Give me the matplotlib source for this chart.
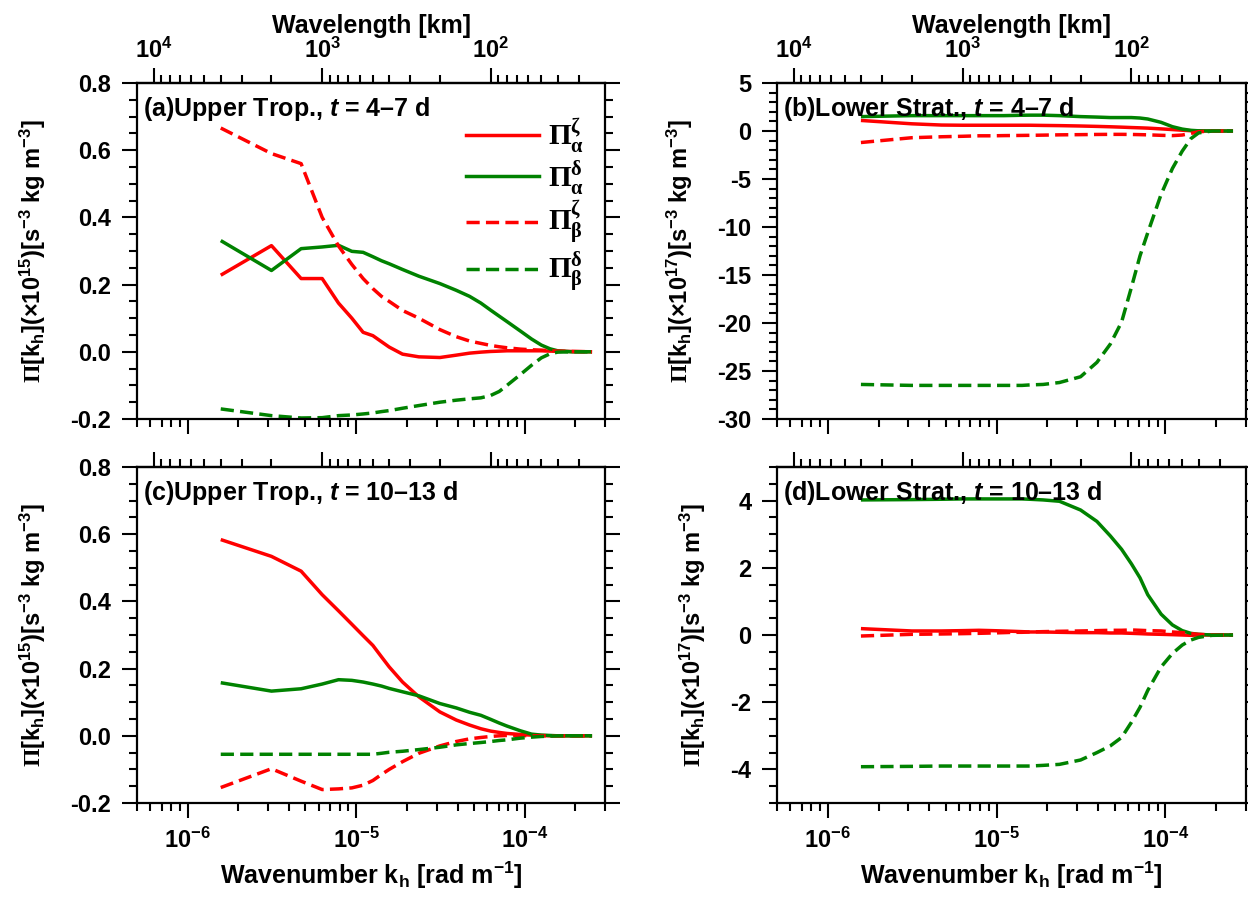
import numpy as np
import matplotlib
matplotlib.use("Agg")
import matplotlib.pyplot as plt
from matplotlib.ticker import (MultipleLocator, FixedLocator, FuncFormatter,
                               NullFormatter)
from matplotlib.lines import Line2D

plt.rcParams.update({
    "font.family": "Liberation Sans",
    "font.weight": "bold",
    "mathtext.fontset": "custom",
    "mathtext.rm": "Liberation Sans:bold",
    "mathtext.it": "Liberation Sans:italic:bold",
    "mathtext.bf": "Liberation Sans:bold",
    "mathtext.cal": "Liberation Serif",
    "mathtext.default": "rm",
})

# ---------------------------------------------------------------- data
DOMAIN_LENGTH_M = 4.0e6          # periodic domain length (4000 km)
mode = np.array([1, 2, 3, 4, 5, 6, 7, 8, 9, 10, 12, 15, 20, 25, 30, 35,
                 40, 45, 50, 60, 70, 80, 90, 100, 120, 160])
kh = 2.0 * np.pi * mode / DOMAIN_LENGTH_M   # horizontal wavenumber [rad m-1]

# (a) upper troposphere, t = 4-7 d   [x 1e15]
a_alpha_zeta = [0.228, 0.316, 0.218, 0.218, 0.145, 0.100, 0.058, 0.048, 0.030, 0.014,
                -0.007, -0.015, -0.017, -0.010, -0.004, -0.001, 0.001, 0.002, 0.003,
                0.003, 0.003, 0.003, 0.002, 0.002, 0.001, 0.0]
a_alpha_delta = [0.331, 0.242, 0.307, 0.312, 0.317, 0.299, 0.296, 0.283, 0.271, 0.262,
                 0.245, 0.225, 0.203, 0.183, 0.165, 0.145, 0.124, 0.106, 0.090, 0.062,
                 0.038, 0.020, 0.009, 0.003, 0.0, 0.0]
a_beta_zeta = [0.666, 0.590, 0.560, 0.400, 0.315, 0.260, 0.218, 0.188, 0.165, 0.150,
               0.123, 0.100, 0.066, 0.045, 0.032, 0.025, 0.019, 0.015, 0.012, 0.008,
               0.006, 0.005, 0.003, 0.002, 0.001, 0.0]
a_beta_delta = [-0.170, -0.190, -0.197, -0.196, -0.190, -0.188, -0.185, -0.182, -0.178,
                -0.175, -0.168, -0.160, -0.150, -0.144, -0.140, -0.137, -0.130, -0.118,
                -0.100, -0.068, -0.040, -0.018, -0.006, -0.001, 0.0, 0.0]

# (b) lower stratosphere, t = 4-7 d   [x 1e17]
b_alpha_zeta = [1.10, 0.75, 0.62, 0.60, 0.60, 0.60, 0.60, 0.60, 0.60, 0.60, 0.58, 0.56,
                0.52, 0.48, 0.44, 0.40, 0.36, 0.33, 0.30, 0.22, 0.15, 0.08, 0.03, 0.01,
                0.0, 0.0]
b_alpha_delta = [1.50, 1.60, 1.60, 1.60, 1.60, 1.60, 1.60, 1.62, 1.64, 1.65, 1.65, 1.60,
                 1.50, 1.45, 1.40, 1.40, 1.40, 1.35, 1.25, 0.90, 0.45, 0.20, 0.07, 0.02,
                 0.0, 0.0]
b_beta_zeta = [-1.20, -0.70, -0.60, -0.55, -0.50, -0.50, -0.48, -0.47, -0.46, -0.45,
               -0.43, -0.40, -0.38, -0.36, -0.35, -0.35, -0.36, -0.38, -0.40, -0.45,
               -0.48, -0.42, -0.25, -0.08, 0.0, 0.0]
b_beta_delta = [-26.4, -26.5, -26.5, -26.5, -26.5, -26.5, -26.5, -26.5, -26.5, -26.45,
                -26.4, -26.2, -25.6, -24.1, -22.2, -19.9, -16.3, -13.0, -10.6, -6.6,
                -3.9, -2.1, -0.8, -0.2, 0.0, 0.0]

# (c) upper troposphere, t = 10-13 d   [x 1e15]
c_alpha_zeta = [0.584, 0.534, 0.490, 0.420, 0.372, 0.332, 0.298, 0.269, 0.235, 0.205,
                0.160, 0.116, 0.071, 0.047, 0.032, 0.021, 0.014, 0.010, 0.007, 0.004,
                0.002, 0.001, 0.0, 0.0, 0.0, 0.0]
c_alpha_delta = [0.158, 0.133, 0.140, 0.154, 0.167, 0.165, 0.160, 0.154, 0.148, 0.141,
                 0.131, 0.119, 0.096, 0.083, 0.070, 0.061, 0.049, 0.038, 0.029, 0.015,
                 0.005, 0.002, 0.001, 0.0, 0.0, 0.0]
c_beta_zeta = [-0.154, -0.098, -0.135, -0.160, -0.158, -0.155, -0.147, -0.133, -0.115,
               -0.100, -0.077, -0.052, -0.030, -0.017, -0.009, -0.005, -0.002, 0.0,
               0.001, 0.001, 0.0, 0.0, 0.0, 0.0, 0.0, 0.0]
c_beta_delta = [-0.055, -0.055, -0.055, -0.055, -0.055, -0.055, -0.055, -0.055, -0.052,
                -0.049, -0.046, -0.041, -0.034, -0.027, -0.023, -0.020, -0.017, -0.014,
                -0.012, -0.007, -0.004, -0.002, -0.001, 0.0, 0.0, 0.0]

# (d) lower stratosphere, t = 10-13 d   [x 1e17]
d_alpha_zeta = [0.19, 0.12, 0.12, 0.13, 0.14, 0.13, 0.12, 0.11, 0.10, 0.09, 0.09, 0.08,
                0.07, 0.07, 0.06, 0.06, 0.05, 0.04, 0.03, 0.02, 0.01, 0.0, -0.01, 0.0,
                0.0, 0.0]
d_alpha_delta = [4.02, 4.03, 4.04, 4.05, 4.05, 4.05, 4.05, 4.05, 4.05, 4.04, 4.02, 3.98,
                 3.72, 3.38, 2.95, 2.55, 2.12, 1.70, 1.20, 0.62, 0.30, 0.13, 0.05, 0.02,
                 0.0, 0.0]
d_beta_zeta = [-0.03, 0.02, 0.03, 0.04, 0.05, 0.06, 0.07, 0.08, 0.08, 0.09, 0.10, 0.11,
               0.12, 0.13, 0.14, 0.14, 0.15, 0.14, 0.13, 0.12, 0.09, 0.07, 0.04, 0.02,
               0.0, 0.0]
d_beta_delta = [-3.92, -3.91, -3.90, -3.90, -3.90, -3.90, -3.90, -3.90, -3.90, -3.90,
                -3.88, -3.85, -3.72, -3.50, -3.30, -3.05, -2.60, -2.15, -1.65, -0.95,
                -0.55, -0.30, -0.15, -0.07, -0.01, 0.0]

series_labels = [r"$\mathcal{\Pi}^{\mathcal{\zeta}}_{\mathcal{\alpha}}$",
                 r"$\mathcal{\Pi}^{\mathcal{\delta}}_{\mathcal{\alpha}}$",
                 r"$\mathcal{\Pi}^{\mathcal{\zeta}}_{\mathcal{\beta}}$",
                 r"$\mathcal{\Pi}^{\mathcal{\delta}}_{\mathcal{\beta}}$"]

panel_titles = [r"(a)Upper Trop., $\mathit{t}$ = 4–7 d",
                r"(b)Lower Strat., $\mathit{t}$ = 4–7 d",
                r"(c)Upper Trop., $\mathit{t}$ = 10–13 d",
                r"(d)Lower Strat., $\mathit{t}$ = 10–13 d"]
panel_series = [[a_alpha_zeta, a_alpha_delta, a_beta_zeta, a_beta_delta],
                [b_alpha_zeta, b_alpha_delta, b_beta_zeta, b_beta_delta],
                [c_alpha_zeta, c_alpha_delta, c_beta_zeta, c_beta_delta],
                [d_alpha_zeta, d_alpha_delta, d_beta_zeta, d_beta_delta]]
panel_exponent = [15, 17, 15, 17]
panel_ylim = [(-0.2, 0.8), (-30, 5), (-0.2, 0.8), (-5, 5)]
panel_ymajor = [0.2, 5, 0.2, 2]
panel_yminor = [0.05, 1, 0.05, 0.5]
panel_yfmt = ["{:.1f}", "{:.0f}", "{:.1f}", "{:.0f}"]

k_limits = (5e-7, 3e-4)
k_major = [1e-6, 1e-5, 1e-4]
lambda_major = [1e4, 1e3, 1e2]

# ---------------------------------------------------------------- style
RED = "#ff0000"
GREEN = "#008200"
LW = 2.5
DASH = (3.8, 1.8)
line_styles = [dict(color=RED), dict(color=GREEN),
               dict(color=RED, dashes=DASH), dict(color=GREEN, dashes=DASH)]

W, H = 1248, 901
fig = plt.figure(figsize=(W / 100, H / 100), dpi=100)

def rect(left, top, right, bottom):
    return [left / W, 1 - bottom / H, (right - left) / W, (bottom - top) / H]

rects = [rect(137, 83, 605, 419), rect(777, 83, 1246, 419),
         rect(137, 467, 605, 803), rect(777, 467, 1246, 803)]

def k_to_lambda(k):
    k = np.asarray(k, dtype=float)
    with np.errstate(divide="ignore"):
        return 2.0 * np.pi / k / 1.0e3

def lambda_to_k(lam):
    lam = np.asarray(lam, dtype=float)
    with np.errstate(divide="ignore"):
        return 2.0 * np.pi / (lam * 1.0e3)

def pow10(v, pos):
    if v <= 0:
        return ""
    e = int(round(np.log10(v)))
    return r"$10^{%d}$" % e

def minor_log_ticks(lo, hi):
    """2..9 x 10^n positions lying inside [lo, hi]."""
    out = []
    for e in range(int(np.floor(np.log10(lo))) - 1, int(np.ceil(np.log10(hi))) + 1):
        for m in range(2, 10):
            v = m * 10.0 ** e
            if lo * (1 - 1e-9) <= v <= hi * (1 + 1e-9):
                out.append(v)
    return out

lam_lo = float(k_to_lambda(k_limits[1]))
lam_hi = float(k_to_lambda(k_limits[0]))

TICK_FS = 17
LABEL_FS = 17
MAJ_LEN, MIN_LEN, TICK_W = 10.5, 5.5, 1.5

for i, r in enumerate(rects):
    ax = fig.add_axes(r)
    for vals, style in zip(panel_series[i], line_styles):
        ax.plot(kh, vals, lw=LW, solid_capstyle="butt", **style)

    ax.set_xscale("log")
    ax.set_xlim(*k_limits)
    ax.set_ylim(*panel_ylim[i])
    ax.yaxis.set_major_locator(MultipleLocator(panel_ymajor[i]))
    ax.yaxis.set_minor_locator(MultipleLocator(panel_yminor[i]))
    fmt = panel_yfmt[i]
    ax.yaxis.set_major_formatter(FuncFormatter(lambda v, p, f=fmt: f.format(v + 0.0)))
    ax.xaxis.set_major_locator(FixedLocator(k_major))
    ax.xaxis.set_minor_locator(FixedLocator(minor_log_ticks(*k_limits)))
    ax.xaxis.set_major_formatter(FuncFormatter(pow10))
    ax.xaxis.set_minor_formatter(NullFormatter())

    for s in ax.spines.values():
        s.set_linewidth(1.6)

    ax.tick_params(axis="both", which="both", direction="out", width=TICK_W,
                   labelsize=TICK_FS, top=False)
    ax.tick_params(axis="y", which="both", left=True, right=True, pad=8)
    ax.tick_params(axis="both", which="major", length=MAJ_LEN)
    ax.tick_params(axis="both", which="minor", length=MIN_LEN)
    ax.tick_params(axis="x", which="major", pad=7)

    sec = ax.secondary_xaxis("top", functions=(k_to_lambda, lambda_to_k))
    sec.xaxis.set_major_locator(FixedLocator(lambda_major))
    sec.xaxis.set_minor_locator(FixedLocator(minor_log_ticks(lam_lo, lam_hi)))
    sec.xaxis.set_major_formatter(FuncFormatter(pow10))
    sec.xaxis.set_minor_formatter(NullFormatter())
    sec.spines["top"].set_linewidth(1.6)
    sec.tick_params(axis="x", which="both", direction="out", width=TICK_W,
                    labelsize=TICK_FS, pad=4)
    sec.tick_params(axis="x", which="major", length=MAJ_LEN)
    sec.tick_params(axis="x", which="minor", length=MIN_LEN)

    if i < 2:
        ax.tick_params(axis="x", labelbottom=False)
        sec.set_xlabel("Wavelength [km]", fontsize=18, fontweight="bold", labelpad=3)
    else:
        sec.tick_params(axis="x", labeltop=False)
        ax.set_xlabel(r"Wavenumber k$_{h}$ [rad m$^{-1}$]", fontsize=18,
                      fontweight="bold", labelpad=5)

    ax.set_ylabel(r"$\mathcal{\Pi}$[k$_{h}$](×10$^{%d}$)[s$^{-3}$ kg m$^{-3}$]"
                  % panel_exponent[i], fontsize=LABEL_FS, fontweight="bold", labelpad=16)

    ax.text(0.013, 0.902, panel_titles[i], transform=ax.transAxes, fontsize=18,
            fontweight="bold", ha="left", va="baseline")

    if i == 0:
        handles = [Line2D([], [], lw=LW, **st) for st in line_styles]
        ax.legend(handles, series_labels, loc="upper left",
                  bbox_to_anchor=(0.703, 0.900), frameon=False, fontsize=21,
                  handlelength=2.5, handletextpad=0.3, labelspacing=0.08,
                  borderpad=0.0, borderaxespad=0.0)

fig.savefig("out.png", dpi=100)
